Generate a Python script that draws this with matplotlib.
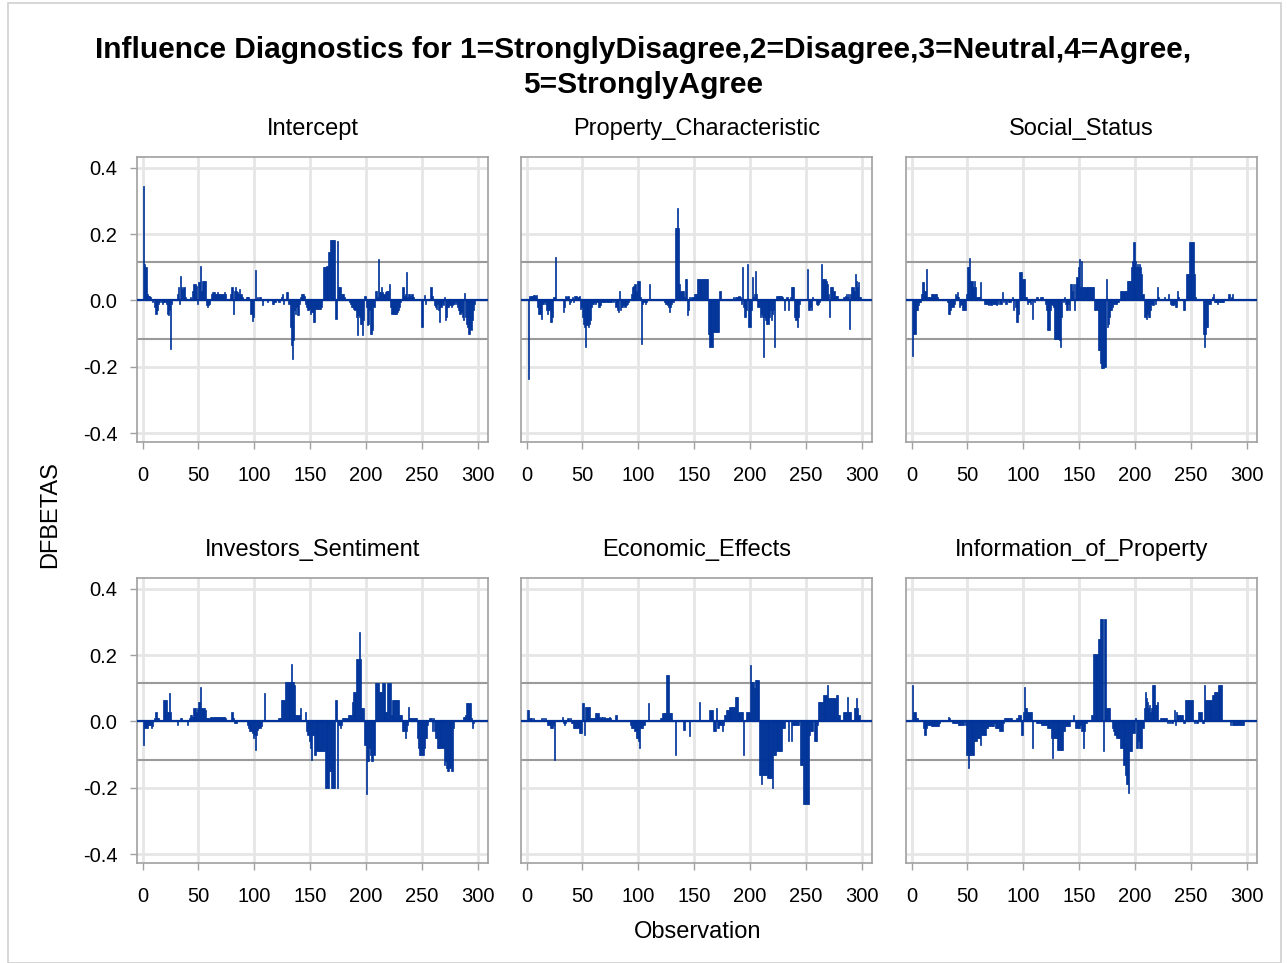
import numpy as np
import matplotlib.pyplot as plt
from matplotlib.ticker import FormatStrFormatter
from matplotlib.patches import Rectangle

plt.rcParams['font.family'] = ['Liberation Sans', 'DejaVu Sans']
plt.rcParams['axes.unicode_minus'] = False

W, H = 1287, 963

# DFBETAS per observation, in hundredths
obs = np.arange(1, 301)

intercept = [
    34.5, 11, 10, 2, 1.5, 1.5, 1, 0, -0.5, 0,
    -2, -4, -3, -1, -0.5, 0, -0.5, -1, -0.5, -0.5,
    -1, -4, -4.5, -3, -14.6, -1, 0, 0.5, 0, 0.5,
    2, 4, -1, 7.3, 4, 3.5, 4, 1, 0.5, 0,
    0.5, 0.5, 1, 0.5, 3, 5, 5, 4.5, -1, 5.5,
    5.5, 10.3, 3, 6, 6, 6, -1.5, -2, -1.5, -1,
    0.5, 2, 2.5, 2.5, 2, 2, 2.5, 2, 2, 2,
    2, 2, 2.5, 2, 0.5, 0.5, 0, 0.5, 2, 4,
    -4.2, 3, 4, 3, 2.5, 2, 3.5, 2, 1, 0.5,
    0, 0, 1, 1, 1, 0.5, -4, -6.3, -5, 0,
    9.3, 0.5, 1, 0.5, 1, 0.5, -1.5, 0, 0.5, 0,
    0, -0.5, 0, 0.5, 0, -1, -1, -0.5, -0.5, 0,
    0, -0.5, 0.5, 1, 2, -1, 0, 0.5, 2.5, 2.5,
    -1, -8, -13.5, -17.7, -12, -3, -4, -2, -4.5, -1,
    1, 2, 2, 2, 1.5, -1, -2, -3, -2.5, -4,
    -3.5, -3.5, -6.6, -6.6, -2.5, -2.5, -2.5, -2.5, -2.5, -2,
    0.5, 10, 10, 10, 10.5, 14.6, 14.6, 18.2, 18.2, 18.2,
    18.2, 18.2, -5.6, 18, 4.2, 4.2, 4, 2, 2, 2,
    1, 0.5, 0.5, 0, -0.5, -1, -2, -2, -2.5, -3,
    -5, -10.5, -4.5, -5, -7, -7, -10.5, -6, 1.5, -2,
    -7.3, -7, -3, -10, -10, -9, -2, 3, 3, 1,
    12.6, 2.5, 2.5, 4, 2.5, 2, 2.5, 3, 3, 3,
    5, -2, -4, -4, -4, -4, -4, -3.5, -3, -2,
    -0.5, 0.5, 4, 1.5, 2, 8.6, 1, 2, 2, 1.5,
    2, 1, 0, 0.5, 0, 0, 0, 0.5, 0, -8.1,
    0.5, 1.8, -1, 0, 0, 0, 0.5, 4, 1.5, 0.5,
    -1.5, -2, -2.5, -1, -3, -6.6, -2, -1, -1.5, 1.2,
    -6, -5, -2, -2, -1.5, -2, -1.5, -1, -1, -0.5,
    -1, -2, -3, -4, -3.5, -5, -6, 2.2, -5, -7,
    -8, -10, -8.5, -9, -6, -3, -1, 0, 0.5, 0,
]

property_char = [
    0.5, -23.7, 1.5, 1.5, 1.5, 1.8, 1.8, 1.5, 1.8, -2,
    -4, -4, -5.5, -1, -1, -0.5, -1, -3, -4, -3,
    -6.5, -6.5, -5, 1, 1, 13, 0.5, 0, 0.5, 0.5,
    0, 0.5, -3.5, -2, 1.5, 1, 1.5, -1, -0.5, 0.5,
    1, -0.5, 1.5, 1.5, 1.5, 1.2, 1.5, -2.5, -2, -5,
    -7, -8, -14, -7.5, -8, -7, -6, -2, -1, -1,
    -0.5, -1, -0.5, -2, -2, -1.5, -0.5, -0.5, -0.5, -0.5,
    -0.5, -0.5, -0.5, -0.5, -0.5, -0.5, 0, -0.5, 0, -2,
    -3, -3.5, 3, -3, -2, -2, -1.5, -2, -1.5, -1,
    -0.5, 0, 0.5, 2, 4, 4.5, 5, 3, 6, 6,
    6, 1, -13, -1, -0.5, -1, -0.5, 0, 0.5, 5,
    0.5, 0.5, 0, 0, 0.5, 0, 0, 0.5, 0.5, 0.5,
    0.5, 0.5, -0.5, -1, -1, -1.5, -2, -3.5, -2, -1,
    -0.5, 0, 22, 22, 28, 22, 5, 3, 3, 3,
    1, 6.5, 6.5, -4.5, -3, 1, 0.5, 1, 1, 2,
    2, 2, 6.5, 6.5, 6.5, 6.5, 6.5, 6.5, 6.5, 6.5,
    6.5, 6.5, -10, -14, -14, -14, -9.6, -9.6, -9.6, -9.6,
    -9.6, -9.6, 3, 0.5, 0.5, 0.5, 0.5, 0.5, 0.5, 0.5,
    0.5, 0.5, 0.5, 0.5, 1, 0.5, 1, 1, 1, 1.5,
    1, -1, 10, -2, -5, -5, -3, 11, -8, -8,
    -3, 7, 1, 2, 9, 2, -2, -2, -5, -4,
    -5, -17, -5, -6, -7, -7, -5, -3, -6, -4,
    -3, -14, 0.5, 1.5, 1.5, 1.5, 1.5, 1.5, 1, 0.5,
    -3, 0, 1, -3, 0.5, 1, 4, 4, 4, -5,
    -6, -8, -5, -1, 0.5, 0, 0.5, 0, 0, 0.5,
    9.5, -3, -3, -2, -3, 1, 0, 0, -1, -1.5,
    -1, -0.5, 0.5, 11, 6.5, 6.5, 6.5, 6, 5, 2,
    -5, 4, 4, 4, 3, 1.5, 1.5, 1.5, 0.5, 0.5,
    0, 0.5, 0.5, 1, 1.5, 2, 1, 2, -8.5, 2,
    4, 4, 3, 8, 6, 4, 5.5, 1, 1, 0.5,
]

social_status = [
    -16.7, -10, -10, -3, -3, -1.5, -0.5, -0.5, 2, 5.5,
    5.5, 3, 9.6, 1, 1, 1, 1, 2, 2, 2,
    2, 2, 1, 0.5, 0.5, 0, 0.5, 0, 0.5, 0.5,
    0, -0.5, -4, -4, -3, -2, -2, -1, 2, 1.5,
    2.5, 1, -2, -1.5, -1, -3, -3, -3, 2, 10,
    10, 12.7, 6, 6, 4, 6, 4, 1, 1, 1,
    1, 5.5, 0.5, 0.5, -1, -1, -1, -1, -1.5, -1,
    -1.5, -1, -1, -1, -1, -1.5, -1, 0.5, -1, -1,
    2.5, -0.5, 0.5, -1, -1, 0.5, -0.5, -0.5, 0.5, 1,
    -3, 0.5, -2, -6.5, -6.5, -4, 8.5, 8.5, 6.5, 6.5,
    6.5, 1, 1, -1, -0.5, -1, 0.5, -5.5, 0, -0.5,
    0.5, 1, 1, 0.5, 1, 1, 1, 0.5, 0.5, -1,
    -3, -9, -9, -3, -1, -1.5, -2, -11.5, -11.5, -11.5,
    -11.5, -12, -14, -5, 0.5, -0.5, 1, -1, -3, -1,
    -3, 5, 5, 3, 5, -3, 5, 7, 10, 12.5,
    4, 12, 4, 4, 4, 4, 4, 4, 4, 4,
    4, 4, 4, -3, -3, -3, -15, -15, -19, -20.5,
    -20.5, -20.5, -20, 6.5, -8, -7, -5, -3, -3, -2,
    -1, -1, -1, -0.5, -0.5, 0.5, 3, 3, 3, 3,
    3, 3, 6, 6, 6, 6, 10, 12, 17.5, 12,
    10, 11, 10, 11, 10, 8, 2, -5, -5, -5.5,
    -4, -5, -5, -3, -1, -1.5, 0.5, -1, 0.5, 4,
    1, 0.5, 0.5, 0.5, 0.5, 1, 0.5, 0.5, 0.5, 2,
    0.5, -1, -1.5, -1.5, -1, -2, -2, 3, 1, 0.5,
    0.5, 0, -3, -3, 0.5, 8, 8, 8, 17.7, 17.7,
    17.7, 17.7, 8, 1, 0.5, 0, 0.5, 0, 0.5, 0.5,
    -10, -14, -10, -8, -8, -1, -1, 0.5, 1, 2,
    -0.5, -0.5, -0.5, -1, -0.5, -0.5, -0.5, -0.5, -0.5, 0,
    0.5, 0.5, 0.5, 2, 0.5, 1, 2, 0.5, 0.5, 0,
    0, 0.5, 0, 0, 0.5, 0, 0, 0, 0, 0,
]

investors = [
    -7, -2, -2, -2, -1, -1, -1, -2, -1.5, 0.5,
    1, 3, 1, 1, 0.5, 0, 0.5, 0.5, 6.5, 6.5,
    6.5, 3, 3, 8.5, 3, 0.5, 0, 0.5, 0, 0,
    -1, 0, 0.5, 1, 1, 0.5, 0.5, 0.5, 0.5, -1,
    0.5, 1, 2, 2, 1.5, 4, 4, 3, 4, 6,
    6, 10.3, 4, 4, 4, 3.5, 1, 1, 1, 1,
    1.5, 1.5, 1.5, 1.5, 1.5, 1.5, 1.5, 1.5, 1.5, 1.5,
    1.5, 1.5, 1.5, 1, 0.5, 0.5, 0.5, 0.5, 0.5, 3,
    1, -0.5, -0.5, -0.5, 0, 0, 0, 0, 0, 0.5,
    0.5, 0.5, 0.5, -1, -2, -3, -3, -3.5, -5, -4,
    -8.5, -4, -2.5, -2, -2, -1.5, 0, 0.5, 8.5, 0.5,
    0.5, 0, 0, 0, 0, 0, 0, 0, 0.5, 0.5,
    0.5, 1, 1, 6.5, 6.5, 6.5, 6.5, 12, 12, 12,
    12, 12, 17.5, 12, 12, 11, 2, 2, 2, 2,
    4, 0.5, 0.5, 0.5, 0.5, 3, -3, -4, -6, -8,
    -11.5, -4, -4, -10, -10, -9, -9, -9, -9, -9,
    -9, -9, -9, -20, -20, -20, -15, -15, -20, -20,
    -20, -20, 6.5, -20, -1, -1, -2, -1, 1, 1,
    1, 1, 1, 2, 2, 2, 2, 6, 9, 9,
    19, 19, 19, 27, 19, 4, 4, 4, -7, -22,
    -12, -12, -8, -10, -12, -12, -10, 11.5, 11.5, 11.5,
    11.5, 9, 9, 9, 11.5, 11.5, 3, 3, 11.5, 11.5,
    11.5, 11.5, 2, 6.5, 6.5, 6.5, 6.5, 6.5, 6.5, 2,
    2, 2, -3, -3, -5, -3, -1, 4.5, 1, 1,
    1, 1, 1, 1, 1, -5, -8, -10, -10, -10,
    -10, -8, -5, -5, -1, 0, 1, 1, -3, 1,
    -3, -5, -5, -8, -8, -8, -8, -8, -8, -13,
    -12, -14, -15, -15, -14, -15, -15, -2, 0.5, 0.5,
    0.5, 0.5, 0.5, 0.5, 0.5, 0.5, 1.5, 1.5, 2, 5.5,
    5.5, 5.5, 5.5, 1, -2, -0.5, 0, 0, 0, 0,
]

economic = [
    3.5, 3.5, 1, 1, 0.5, 1, 0.5, 0.5, 0, 0,
    0.5, 0.5, 1, 0.5, 1, 0.5, 1, 0.5, -1, -1,
    -2, -2, -2, -1, -11.5, 0, 0, 0.5, 0, 0,
    0.5, 1.5, -0.5, -1, -0.5, 0.5, 1, 0.5, 1, -0.5,
    -0.5, -2, -2, -2, -2, -2, -3.5, -3.5, -3.5, 5.5,
    5.5, -4, 4.5, 4.5, 4.5, 4.5, 1, 1, 1, 1,
    1, 2.5, 2.5, 2.5, 1.5, 1, 1.5, 1.5, 1, 1.5,
    1, 1, 1, 1.5, 1, 0, 0, 0, 0, 2,
    0, 0, 0, 0, 0, 0, 0, 0, 0, 0,
    0, 0, -1, -2, -2, -2, -3, -5, -5, -6,
    -8, -2, -2, -2, -1, 0, 0, 0, 5.5, 0.5,
    0, 0, 0, 0, 0, 0, 0.5, 0, 0.5, 1,
    1, 2.5, 2.5, 2.5, 14, 14, 14, 2.5, 2.5, 2.5,
    0.5, 0, -10, 0.5, 0.5, 0.5, 0.5, 0.5, 0, -2.5,
    -2.5, 0.5, 0.5, 0.5, 0.5, -4.5, 0, 0.5, 0.5, 0.5,
    0, 0.5, 0.5, 0.5, 6, 0.5, 0.5, 0.5, 0.5, 0.5,
    0.5, 0.5, 0.5, 3.5, 3.5, 3.5, -3, -3, -3, 4,
    -2, -2, -1, -1, -3, -1, 2, 2, 3.5, 3.5,
    3.5, 4.5, 4.5, 4.5, 4.5, 4.5, 7.5, 7.5, 7.5, 3,
    3, 3, 3, -10, 0, 0, 3, 3, 3, 17,
    12, 12, 12, 10, 12.5, 12.5, 12.5, -16, -16, -19,
    -16, -16, -16, -16, -16, -17, -17, -17, -17, -20,
    -10, -10, -10, -9, -9, -9, -9, -9, -2, -2,
    -2, 0.5, 0.5, -6, 0, 0, -6, -1, -1, -1,
    -1, -1, -1, 0.5, -13, -13, -13, -25, -25, -25,
    -25, -25, -4, -3, -3, -3, 0, -6, -6, -1,
    6, 6, 6, 6, 6, 8, 8, 8, 11, 7,
    7, 7, 7, 7, 7, 7, 8, 8, 2, 2,
    0.5, 0.5, 0.5, 3, 3, 3, 7.5, 3, 3, 3,
    0.5, 0.5, 4, 4, 7, 4, 2, 2, 0.5, 0,
]

information = [
    11, 3, 3, 1, 1, 0.5, 0.5, 0.5, 0, 0.5,
    -2, -4, -2, -1, -1, -1, -1, -1.5, -1.5, -1.5,
    -1.5, -1.5, -1.5, -1.5, -0.5, 0, 0, 0, 0.5, 0,
    0, 0.5, 1.5, 1, 0.5, 0.5, -0.5, -0.5, -0.5, -0.5,
    -0.5, -1, -1, -1, -1, -1, 0.5, -1, -10, -10,
    -14, -10, -10, -10, -10, -6, -6, -6, -5, -5,
    -5, -7, -4, -4, -4, -4, -2, -2, -1.5, -1.5,
    -1.5, -1.5, -1.5, -0.5, -2, -2, -2, -2, -3, -3,
    -3, -0.5, 1, 1, 1, 1, 1, 1, 1, 0.5,
    0.5, 0.5, 0.5, 1, 1, 2, 2, -4, -4, 3,
    10.5, 4, 4, 3, 3, 3, 3, -8, 0.5, 0.5,
    0, -0.5, -0.5, -0.5, -0.5, -1, -1, -1, -1, -1,
    -1, -2, -2, -2, -5, -11, -5, -5, -5, -5,
    -8.5, -8.5, -8.5, -8.5, -8.5, -3, -3, -1.5, -1.5, -1.5,
    -1.5, 0.5, 0.5, 0.5, 2, 0, -2, -2, -2, -2,
    -1, -3, -3, -8, -3, -0.5, 0, 0, 0.5, 0.5,
    2, 2, 20.5, 20.5, 20.5, 20.5, 25, 25, 31, 31,
    31, -9, 31, 4, 4, 4, 4, 0.5, 0.5, -2,
    -3, -4, -5, -5, -5, -5, -8, -8, -8, -13,
    -16, -19, -19, -21.5, -9, -9, -9, -3.5, -3.5, 1,
    -8, -8, -6, -8, -8, -8, -2, 4, 9, 7,
    6, 4, 5, 3, 4, 11, 11, 5, 5, 6,
    0.5, 0.5, 1, 1, 1, 1, 1, 1, -0.5, 0,
    -0.5, 0, -0.5, 0, 3.5, -1, 3, 2, 2, 2,
    2, 2, -0.5, -0.5, 6.5, 6.5, 6.5, 6.5, 6.5, 6.5,
    6.5, 0.5, -0.5, 0.5, -0.5, -0.5, 3, 3, 3, -0.5,
    -0.5, 11, 6.5, 6.5, 6.5, 6.5, 6.5, 6.5, 8, 8,
    9, 9, 9, 9, 11, 11, 11, 0.5, 0, 0,
    0, 0, 0, 0.5, -1, 0.5, -1, -1, -1, -1,
    -1, -1, -1, -1, -1, -1, -1, 0, 0, 0,
]

names = ["Intercept", "Property_Characteristic", "Social_Status",
         "Investors_Sentiment", "Economic_Effects", "Information_of_Property"]
series = [intercept, property_char, social_status, investors, economic, information]

blue = '#003399'
cutoff = 2 / np.sqrt(len(obs))

fig = plt.figure(figsize=(W / 100, H / 100), dpi=100)

# thin frame around the whole output, like the screenshot
fig.patches.append(Rectangle((8 / W, 0), (1281 - 8) / W, 1 - 3 / H, transform=fig.transFigure,
                             fill=False, edgecolor='#d0d0d0', linewidth=1.2))

lefts = [137, 521, 906]
tops = [157, 578]
pw, ph = 351, 285

for i, (name, vals) in enumerate(zip(names, series)):
    r, c = divmod(i, 3)
    x0, y0 = lefts[c], tops[r]
    ax = fig.add_axes([x0 / W, 1 - (y0 + ph) / H, pw / W, ph / H])
    v = np.array(vals) / 100.0
    ax.bar(obs, v, width=1.0, color=blue, edgecolor=blue, linewidth=0.5, zorder=3)
    ax.axhline(0, color=blue, linewidth=1.6, zorder=4)
    ax.axhline(cutoff, color='#9a9a9a', linewidth=1.5, zorder=2)
    ax.axhline(-cutoff, color='#9a9a9a', linewidth=1.5, zorder=2)

    ax.set_xlim(-5, 309)
    ax.set_ylim(-0.427, 0.433)
    ax.set_xticks(range(0, 301, 50))
    ax.set_yticks([-0.4, -0.2, 0.0, 0.2, 0.4])
    ax.yaxis.set_major_formatter(FormatStrFormatter('%.1f'))
    ax.grid(True, color='#e6e6e6', linewidth=2)
    ax.set_axisbelow(True)
    for s in ax.spines.values():
        s.set_color('#a0a0a0')
        s.set_linewidth(1.2)
    ax.tick_params(length=5, width=1, color='#a0a0a0', labelsize=14.5)
    ax.tick_params(axis='x', pad=12)
    ax.tick_params(axis='y', pad=9)
    if c > 0:
        ax.tick_params(axis='y', left=False, labelleft=False)

    fig.text((x0 + pw / 2) / W, 1 - (y0 - 28) / H, name, ha='center', va='center', fontsize=17)

fig.text(0.5, 1 - 50 / H, "Influence Diagnostics for 1=StronglyDisagree,2=Disagree,3=Neutral,4=Agree,",
         ha='center', va='center', fontsize=21.5, fontweight='bold')
fig.text(0.5, 1 - 85 / H, "5=StronglyAgree", ha='center', va='center', fontsize=21.5, fontweight='bold')
fig.text(50 / W, 1 - 515 / H, "DFBETAS", rotation=90, ha='center', va='center', fontsize=17)
fig.text(698 / W, 1 - 932 / H, "Observation", ha='center', va='center', fontsize=17)

fig.savefig("out.png", dpi=100)
